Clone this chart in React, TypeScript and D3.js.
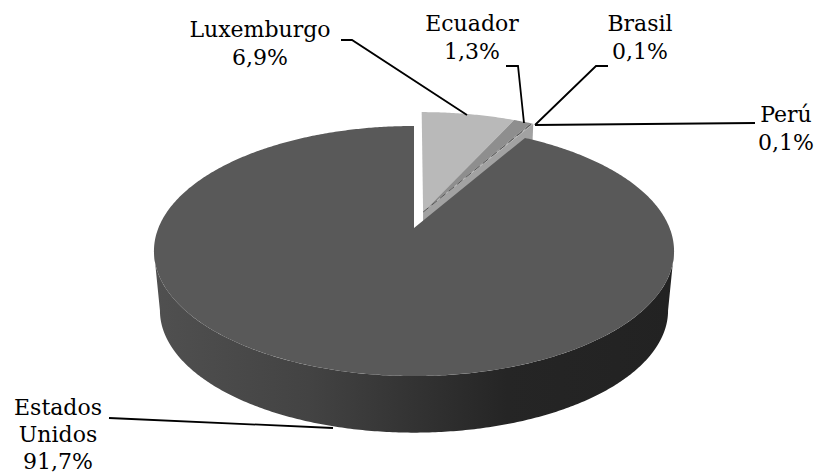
import React from "react";
import * as d3 from "d3";

const categories = ["Luxemburgo", "Ecuador", "Brasil", "Perú", "Estados Unidos"];
const values = [6.9, 1.3, 0.1, 0.1, 91.7];
const sliceColors = ["#b9b9b9", "#8e8e8e", "#6e6e6e", "#a6a6a6", "#595959"];
const labelLines = [["Luxemburgo", "6,9%"], ["Ecuador", "1,3%"], ["Brasil", "0,1%"], ["Perú", "0,1%"], ["Estados", "Unidos", "91,7%"]];
const labelAnchors = [[260, 37], [472, 31], [640, 31], [786, 122], [58, 415]];
const labelPitch = [28, 28, 28, 28, 27];
const leaders = [
  [[341, 40], [352, 40], [467, 115]],
  [[506, 66], [518, 66], [524, 123]],
  [[608, 66], [596, 66], [535, 125]],
  [[755, 123], [535, 125]],
  [[109, 418], [333, 428]],
];

const TIP = [414, 228];
const K = 0.184;
const R = 255.6, S = 120.8;
const BOTTOM_CY = 288, BOTTOM_SCALE = 0.977;
const EXPLODE = 0.14;
const EXPLODED_RADIUS = 1.03;

// Perspective projection of a point of the unit disc
const project = (u: number, v: number, lower = false) => {
  const w = 1 - K * v;
  const s = lower ? BOTTOM_SCALE : 1;
  return [TIP[0] + (R * s * u) / w, (lower ? BOTTOM_CY : TIP[1]) + (S * s * v) / w];
};

const pie = d3.pie<number>().sort(null).value((d) => d)(values);
const sum = d3.sum(values);
const toAngle = d3.scaleLinear().domain([0, sum]).range([0, 2 * Math.PI]);

const arcPts = (a0: number, a1: number, du = 0, dv = 0, lower = false, r = 1) => {
  const n = Math.max(2, Math.ceil(Math.abs(a1 - a0) / 0.01));
  return d3.range(n + 1).map((i) => {
    const a = a0 + ((a1 - a0) * i) / n;
    return project(r * Math.sin(a) + du, -r * Math.cos(a) + dv, lower);
  });
};
const line = d3.line();

const smallEnd = toAngle(d3.sum(values.slice(0, 4)));
const explodeMid = smallEnd / 2;
const du = EXPLODE * Math.sin(explodeMid);
const dv = -EXPLODE * Math.cos(explodeMid);
const r = EXPLODED_RADIUS;

export default function App() {
  const main = pie[4];
  const mainPath =
    line([project(0, 0), ...arcPts(main.startAngle, main.endAngle)])! + "Z";

  // Side wall: band between the front arcs of the two discs, from widest point to widest point
  const widest = Math.PI / 2 + Math.asin(K);
  const frontTop = arcPts(widest, 2 * Math.PI - widest);
  const frontBottom = arcPts(widest, 2 * Math.PI - widest, 0, 0, true).reverse();
  const wall = line([...frontTop, ...frontBottom])! + "Z";

  // Side face of the exploded group, along its trailing radial edge
  const edgeA = project(du, dv);
  const edgeB = project(r * Math.sin(smallEnd) + du, -r * Math.cos(smallEnd) + dv);
  const edgeC = project(r * Math.sin(smallEnd) + du, -r * Math.cos(smallEnd) + dv, true);
  const edgeD = project(du, dv, true);

  return (
    <svg
      width={815}
      height={474}
      style={{ position: "absolute", left: 0, top: 0, fontFamily: "'DejaVu Serif', serif" }}
    >
      <defs>
        <linearGradient id="wallGrad" gradientUnits="userSpaceOnUse" x1={153} x2={673} y1={0} y2={0}>
          <stop offset="0" stopColor="#505050" />
          <stop offset="0.3" stopColor="#434343" />
          <stop offset="0.5" stopColor="#333333" />
          <stop offset="0.68" stopColor="#252525" />
          <stop offset="1" stopColor="#222222" />
        </linearGradient>
        <clipPath id="aboveTip">
          <rect x={0} y={0} width={815} height={TIP[1]} />
        </clipPath>
      </defs>

      <path clipPath="url(#aboveTip)" d={line([edgeA, edgeB, edgeC, edgeD])! + "Z"} fill="#a2a2a2" />
      {pie.slice(0, 4).map((p, i) => (
        <path
          key={categories[i]}
          d={line([project(du, dv), ...arcPts(p.startAngle, p.endAngle, du, dv, false, r)])! + "Z"}
          fill={sliceColors[i]}
        />
      ))}
      <path
        d={line([project(du, dv), project(r * Math.sin(pie[2].endAngle) + du, -r * Math.cos(pie[2].endAngle) + dv)])!}
        stroke="#555555"
        strokeWidth={1}
        strokeDasharray="7 4"
        fill="none"
      />

      <path d={wall} fill="url(#wallGrad)" />
      <path d={mainPath} fill={sliceColors[4]} />

      {leaders.map((pts, i) => (
        <path key={i} d={line(pts as [number, number][])!} fill="none" stroke="#000" strokeWidth={1.8} />
      ))}
      {labelLines.map((lines, i) => (
        <text
          key={i}
          x={labelAnchors[i][0]}
          y={labelAnchors[i][1]}
          textAnchor="middle"
          fontSize={22}
          fill="#000"
        >
          {lines.map((t, j) => (
            <tspan key={j} x={labelAnchors[i][0]} dy={j === 0 ? 0 : labelPitch[i]}>
              {t}
            </tspan>
          ))}
        </text>
      ))}
    </svg>
  );
}
